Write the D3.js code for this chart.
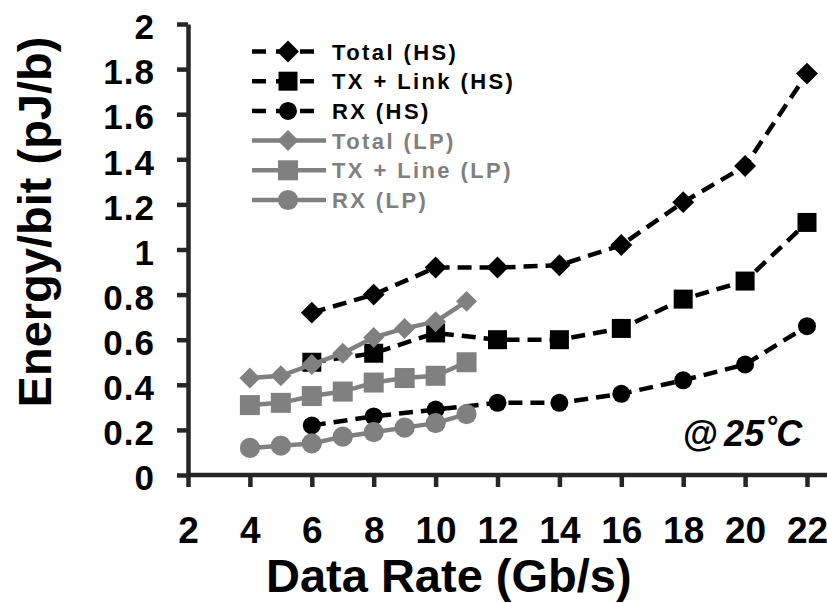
<!DOCTYPE html>
<html>
<head>
<meta charset="utf-8">
<script src="https://cdn.jsdelivr.net/npm/d3@7/dist/d3.min.js"></script>
<style>
  html, body { margin: 0; padding: 0; background: #fff; }
  svg { display: block; font-family: "Liberation Sans", Arial, sans-serif; font-weight: bold; }
</style>
</head>
<body>
<svg id="chart" width="827" height="603"></svg>
<script>
// Data rates (Gb/s) for the high-speed and low-power modes
const xHS = [6, 8, 10, 12, 14, 16, 18, 20, 22];
const xLP = [4, 5, 6, 7, 8, 9, 10, 11];

// Energy per bit (pJ/b)
const totalHS = [0.72, 0.80, 0.92, 0.92, 0.93, 1.02, 1.21, 1.37, 1.78];
const txLinkHS = [0.50, 0.54, 0.63, 0.60, 0.60, 0.65, 0.78, 0.86, 1.12];
const rxHS = [0.22, 0.26, 0.29, 0.32, 0.32, 0.36, 0.42, 0.49, 0.66];
const totalLP = [0.43, 0.44, 0.49, 0.54, 0.61, 0.65, 0.68, 0.77];
const txLineLP = [0.31, 0.32, 0.35, 0.37, 0.41, 0.43, 0.44, 0.50];
const rxLP = [0.12, 0.13, 0.14, 0.17, 0.19, 0.21, 0.23, 0.27];

const seriesNames = ["Total (HS)", "TX + Link (HS)", "RX (HS)", "Total (LP)", "TX + Line (LP)", "RX (LP)"];

// Axis ticks
const xTicks = [2, 4, 6, 8, 10, 12, 14, 16, 18, 20, 22];
const yTicks = [0, 0.2, 0.4, 0.6, 0.8, 1, 1.2, 1.4, 1.6, 1.8, 2];
const yTickLabels = ["0", "0.2", "0.4", "0.6", "0.8", "1", "1.2", "1.4", "1.6", "1.8", "2"];

const W = 827, H = 603;
const svg = d3.select("#chart");
svg.append("rect").attr("width", W).attr("height", H).attr("fill", "#fff");

const x = d3.scaleLinear().domain([2, 22]).range([188, 807]);
const y = d3.scaleLinear().domain([0, 2]).range([475, 24]);

const AXIS = "#262626";
const GRAY = "#808080";

// y axis
const gy = svg.append("g").attr("transform", `translate(${x(2)},0)`)
  .call(d3.axisLeft(y).tickValues(yTicks).tickSize(11).tickSizeOuter(0).tickPadding(22)
    .tickFormat((d, i) => yTickLabels[i]));
gy.select(".domain").attr("stroke", AXIS).attr("stroke-width", 4.5);
gy.selectAll(".tick line").attr("stroke", AXIS).attr("stroke-width", 4.5);
gy.selectAll(".tick text").attr("font-size", 35).attr("fill", "#000").attr("dy", "0.42em")
  .attr("font-family", "Liberation Sans, Arial, sans-serif").attr("font-weight", "bold")
  .attr("letter-spacing", 1);

// x axis, with its line running on to the right edge
const gx = svg.append("g").attr("transform", `translate(0,${y(0)})`)
  .call(d3.axisBottom(x).tickValues(xTicks).tickSize(12).tickSizeOuter(0).tickPadding(30)
    .tickFormat(d3.format("d")));
gx.select(".domain").attr("d", `M${x(2)},0H${W}`).attr("stroke", AXIS).attr("stroke-width", 4.5);
gx.selectAll(".tick line").attr("stroke", AXIS).attr("stroke-width", 4.5);
gx.selectAll(".tick text").attr("font-size", 37).attr("fill", "#000").attr("dy", "0.71em")
  .attr("font-family", "Liberation Sans, Arial, sans-serif").attr("font-weight", "bold");

// axis titles
svg.append("text").attr("x", 266).attr("y", 592).attr("font-size", 47).attr("fill", "#000")
  .text("Data Rate (Gb/s)");
svg.append("text").attr("transform", `translate(51,222) rotate(-90)`).attr("text-anchor", "middle")
  .attr("font-size", 47).attr("fill", "#000").text("Energy/bit (pJ/b)");

// series definitions
const diamond = d3.symbol().type(d3.symbolSquare);
const series = [
  { name: seriesNames[0], xs: xHS, ys: totalHS, color: "#000", dash: "14,8", shape: "diamond", size: 240 },
  { name: seriesNames[1], xs: xHS, ys: txLinkHS, color: "#000", dash: "14,8", shape: "square", size: 361 },
  { name: seriesNames[2], xs: xHS, ys: rxHS, color: "#000", dash: "14,8", shape: "circle", size: 254 },
  { name: seriesNames[3], xs: xLP, ys: totalLP, color: GRAY, dash: null, shape: "diamond", size: 220 },
  { name: seriesNames[4], xs: xLP, ys: txLineLP, color: GRAY, dash: null, shape: "square", size: 400 },
  { name: seriesNames[5], xs: xLP, ys: rxLP, color: GRAY, dash: null, shape: "circle", size: 320 }
];

function symbolPath(s) {
  if (s.shape === "circle") return d3.symbol().type(d3.symbolCircle).size(s.size)();
  return d3.symbol().type(d3.symbolSquare).size(s.size)();
}
function symbolRotate(s) { return s.shape === "diamond" ? " rotate(45)" : ""; }

const line = d3.line().x(d => x(d[0])).y(d => y(d[1]));

series.forEach(s => {
  const pts = s.xs.map((v, i) => [v, s.ys[i]]);
  const g = svg.append("g");
  g.append("path").datum(pts).attr("d", line).attr("fill", "none")
    .attr("stroke", s.color).attr("stroke-width", 4.5)
    .attr("stroke-dasharray", s.dash).attr("stroke-linejoin", "round");
  g.selectAll("path.m").data(pts).join("path").attr("class", "m")
    .attr("d", symbolPath(s)).attr("fill", s.color)
    .attr("transform", d => `translate(${x(d[0])},${y(d[1])})${symbolRotate(s)}`);
});

// legend
const legend = svg.append("g");
series.forEach((s, i) => {
  const cy = 51.5 + i * 29.7;
  const row = legend.append("g");
  row.append("line").attr("x1", 252).attr("x2", s.dash ? 318 : 326).attr("y1", cy).attr("y2", cy)
    .attr("stroke", s.color).attr("stroke-width", 4.5).attr("stroke-dasharray", s.dash ? "14,10" : null);
  row.append("path").attr("d", symbolPath(s)).attr("fill", s.color)
    .attr("transform", `translate(288,${cy})${symbolRotate(s)}`);
  row.append("text").attr("x", 332).attr("y", cy + 8).attr("font-size", 22)
    .attr("letter-spacing", 2.4).attr("fill", s.dash ? "#000" : GRAY).text(s.name);
});

// temperature note
const note = svg.append("text").attr("x", 683).attr("y", 446).attr("font-size", 36).attr("fill", "#000");
note.append("tspan").text("@");
note.append("tspan").attr("dx", 6).attr("font-style", "italic").text("25˚C");
</script>
</body>
</html>
